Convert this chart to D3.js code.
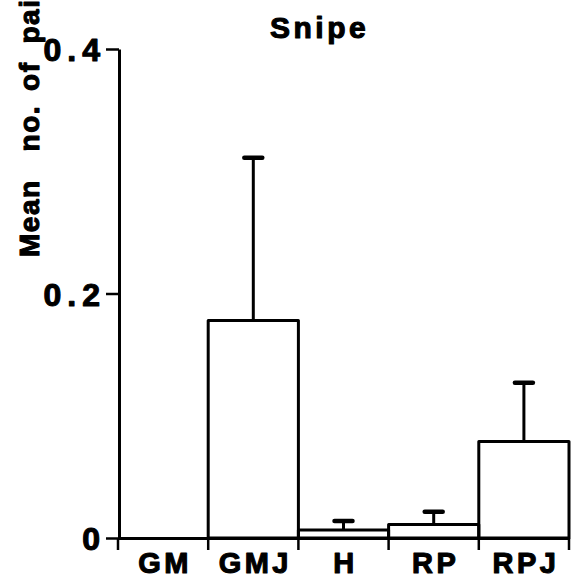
<!DOCTYPE html>
<html>
<head>
<meta charset="utf-8">
<script src="https://cdn.jsdelivr.net/npm/d3@7"></script>
<style>
  html, body { margin: 0; padding: 0; background: #fff; }
  svg { display: block; }
  text { font-family: "Liberation Sans", Arial, sans-serif; font-weight: bold; fill: #000; stroke: #000; stroke-width: 1.1px; stroke-linejoin: round; }
</style>
</head>
<body>
<script>
// ---- data ----
const categories = ["GM", "GMJ", "H", "RP", "RPJ"];
const means      = [0, 0.178, 0.0065, 0.011, 0.079];
const errUpper   = [0, 0.311, 0.014, 0.0215, 0.127];
const yTicks     = [0, 0.2, 0.4];
const yTickLabels = ["0", "0.2", "0.4"];
const titleText  = "Snipe";
const yTitleParts = ["Mean", "no.", "of", "pairs"];

// ---- layout ----
const W = 572, H = 583;
const svg = d3.select("body").append("svg").attr("width", W).attr("height", H);

const x = d3.scaleBand().domain(categories).range([118, 569]).paddingInner(0).paddingOuter(0);
const y = d3.scaleLinear().domain([0, 0.4]).range([538, 49]);

const data = categories.map((c, i) => ({ cat: c, mean: means[i], up: errUpper[i] }));

const lw = 3;

// bars (outline only)
svg.append("g").selectAll("rect")
  .data(data.filter(d => d.mean > 0))
  .join("rect")
  .attr("x", d => x(d.cat))
  .attr("y", d => y(d.mean))
  .attr("width", x.bandwidth())
  .attr("height", d => y(0) - y(d.mean))
  .attr("fill", "none")
  .attr("stroke", "#000")
  .attr("stroke-width", lw)
  .attr("stroke-linejoin", "round");

// error bars
const eg = svg.append("g").selectAll("g")
  .data(data.filter(d => d.up > d.mean))
  .join("g");
eg.append("line")
  .attr("x1", d => x(d.cat) + x.bandwidth() / 2)
  .attr("x2", d => x(d.cat) + x.bandwidth() / 2)
  .attr("y1", d => y(d.mean))
  .attr("y2", d => y(d.up))
  .attr("stroke", "#000").attr("stroke-width", lw);
eg.append("line")
  .attr("x1", d => x(d.cat) + x.bandwidth() / 2 - 9)
  .attr("x2", d => x(d.cat) + x.bandwidth() / 2 + 9)
  .attr("y1", d => y(d.up))
  .attr("y2", d => y(d.up))
  .attr("stroke", "#000").attr("stroke-width", 4.5).attr("stroke-linecap", "round");

// y axis
const yAxis = d3.axisLeft(y)
  .tickValues(yTicks)
  .tickFormat((d, i) => yTickLabels[i])
  .tickSize(13)
  .tickSizeOuter(0)
  .tickPadding(0);
const yg = svg.append("g").attr("transform", "translate(119,0)").call(yAxis);
yg.select(".domain").attr("stroke", "#000").attr("stroke-width", lw);
yg.selectAll(".tick line").attr("stroke", "#000").attr("stroke-width", 2.5);
yg.selectAll(".tick text")
  .attr("x", -13)
  .attr("dy", "0.36em")
  .style("font-size", "32px")
  .style("letter-spacing", "6px")
  .style("font-family", "'Liberation Sans', Arial, sans-serif")
  .style("font-weight", "bold");

// x axis
const xAxis = d3.axisBottom(x).tickSize(0).tickSizeOuter(0).tickPadding(14);
const xg = svg.append("g").attr("transform", `translate(0,${y(0)})`).call(xAxis);
xg.select(".domain").attr("stroke", "#000").attr("stroke-width", lw);
xg.selectAll(".tick text")
  .attr("dy", "0.71em")
  .attr("dx", "2")
  .style("font-size", "29px")
  .style("letter-spacing", "3.5px")
  .style("font-family", "'Liberation Sans', Arial, sans-serif")
  .style("font-weight", "bold");

// boundary ticks on x axis
const bounds = categories.map(c => x(c)).concat([x.range()[1]]);
svg.append("g").selectAll("line")
  .data(bounds)
  .join("line")
  .attr("x1", d => d).attr("x2", d => d)
  .attr("y1", y(0)).attr("y2", y(0) + 12)
  .attr("stroke", "#000").attr("stroke-width", 2.5);

// title
svg.append("text")
  .attr("x", 270).attr("y", 38)
  .attr("text-anchor", "start")
  .style("font-size", "30px")
  .style("letter-spacing", "3.5px")
  .text(titleText);

// y title (rotated)
const yt = svg.append("text")
  .attr("transform", "translate(39,257) rotate(-90)")
  .attr("text-anchor", "start")
  .style("font-size", "28px")
  .style("letter-spacing", "1.5px");
const gaps = [0, 28, 14, 18];
yTitleParts.forEach((p, i) => {
  yt.append("tspan").attr("dx", gaps[i]).text(p);
});
</script>
</body>
</html>
